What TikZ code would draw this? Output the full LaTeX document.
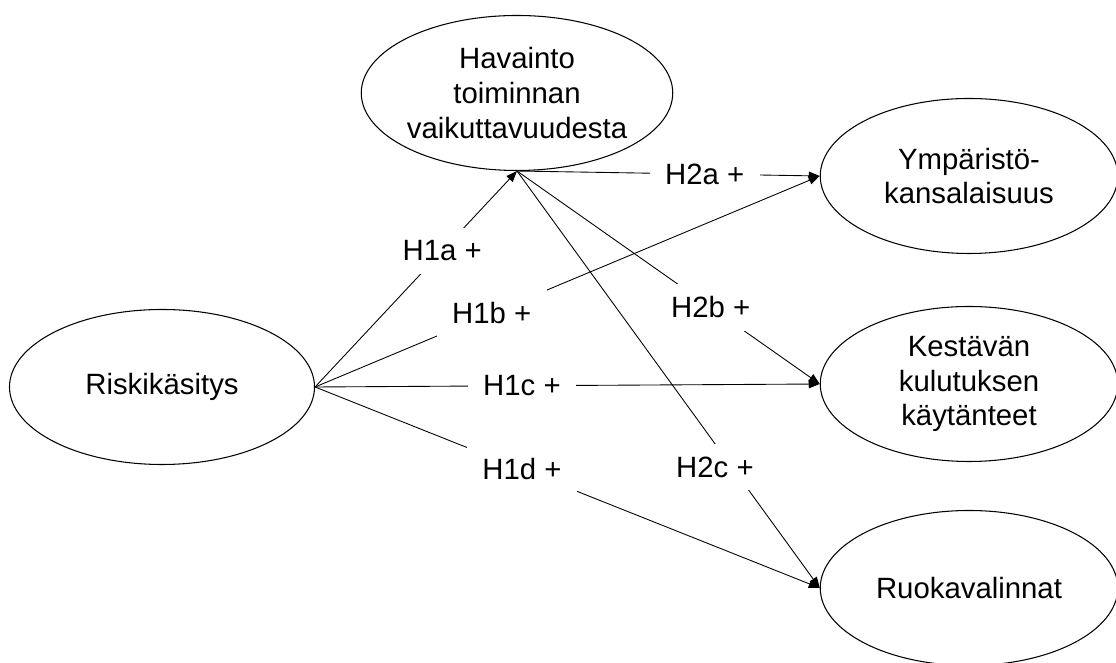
\documentclass[tikz,border=0pt]{standalone}
\usepackage{fontspec}
\setmainfont{Liberation Sans}
\usetikzlibrary{shapes.geometric,arrows.meta}

\begin{document}
\begin{tikzpicture}[every node/.style={font=\fontsize{16.7pt}{19.8pt}\selectfont},
    latent/.style={ellipse, draw, line width=0.6pt, inner sep=0pt, align=center, minimum height=3.1cm},
    hyp/.style={fill=white, inner xsep=0.31cm, inner ysep=0.26cm},
    arr/.style={line width=0.5pt, -{Triangle[length=0.22cm, width=0.17cm]}}]
    \useasboundingbox[fill=white] (0, 0) rectangle (22.32, 13.26);

    % Latent constructs
    \node[latent, minimum width=6.1cm] (risk) at (3.24, 5.52) {Riskikäsitys};
    \node[latent, minimum width=6.1cm] (hav) at (10.34, 11.40) {Havainto\\toiminnan\\vaikuttavuudesta};
    \node[latent, minimum width=5.95cm] (ymp) at (19.38, 9.74) {Ympäristö-\\kansalaisuus};
    \node[latent, minimum width=5.95cm] (kes) at (19.38, 5.58) {Kestävän\\kulutuksen\\käytänteet};
    \node[latent, minimum width=5.95cm] (ruo) at (19.38, 1.50) {Ruokavalinnat};

    % Hypotheses
    \foreach \a/\b/\p/\dx/\t in {risk.east/hav.south/0.63/0/H1a +,
                                 risk.east/ymp.west/0.35/0/H1b +,
                                 risk.east/kes.west/0.41/0/H1c +,
                                 risk.east/ruo.west/0.41/0/H1d +,
                                 hav.south/ymp.west/0.62/0/H2a +,
                                 hav.south/kes.west/0.64/0/H2b +,
                                 hav.south/ruo.west/0.71/-0.34/H2c +} {
        \draw[arr] (\a) -- node[hyp, pos=\p, xshift=\dx cm] {\t} (\b);
    }
\end{tikzpicture}
\end{document}
